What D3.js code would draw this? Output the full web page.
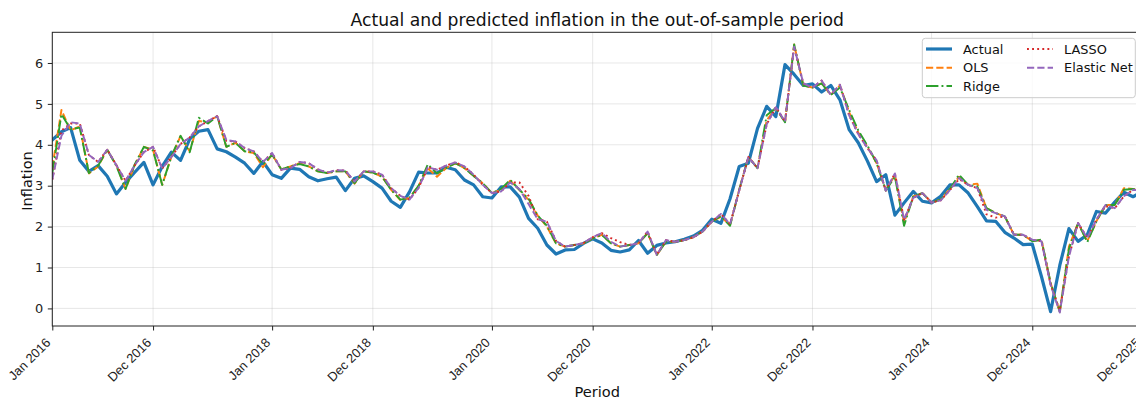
<!DOCTYPE html>
<html>
<head>
<meta charset="utf-8">
<script src="https://cdn.jsdelivr.net/npm/d3@7"></script>
<style>
  html, body { margin: 0; padding: 0; background: #fff; }
  svg { display: block; font-family: "DejaVu Sans", sans-serif; }
</style>
</head>
<body>
<svg id="chart" width="1136" height="399"></svg>
<script>
// Monthly out-of-sample period, Jan 2016 .. Dec 2025
const periods = d3.utcMonth.range(new Date(Date.UTC(2016, 0, 1)), new Date(Date.UTC(2026, 0, 1)))
  .map(d => d3.utcFormat("%b %Y")(d));

const actual = [
  4.12, 4.32, 4.42, 3.62, 3.35, 3.49, 3.23, 2.80, 3.08, 3.33,
  3.57, 3.02, 3.47, 3.82, 3.62, 4.14, 4.33, 4.37, 3.90, 3.83,
  3.70, 3.55, 3.30, 3.59, 3.27, 3.18, 3.43, 3.40, 3.22, 3.12,
  3.17, 3.21, 2.88, 3.18, 3.24, 3.10, 2.94, 2.62, 2.47, 2.85,
  3.33, 3.31, 3.31, 3.45, 3.39, 3.14, 3.02, 2.73, 2.70, 2.97,
  2.97, 2.72, 2.20, 1.96, 1.55, 1.33, 1.43, 1.44, 1.59, 1.70,
  1.60, 1.42, 1.38, 1.43, 1.66, 1.35, 1.54, 1.60, 1.63, 1.69,
  1.77, 1.91, 2.18, 2.08, 2.68, 3.47, 3.55, 4.40, 4.94, 4.69,
  5.96, 5.72, 5.45, 5.49, 5.29, 5.45, 5.10, 4.37, 4.05, 3.60,
  3.10, 3.27, 2.28, 2.58, 2.86, 2.62, 2.58, 2.74, 3.02, 3.02,
  2.82, 2.49, 2.14, 2.13, 1.86, 1.72, 1.56, 1.57, 0.78, -0.08,
  1.05, 1.95, 1.64, 1.80, 2.37, 2.33, 2.60, 2.84, 2.73, 2.85
];

const ols = [
  3.45, 4.85, 4.35, 4.45, 3.30, 3.47, 3.88, 3.50, 2.92, 3.50,
  3.95, 3.88, 3.02, 3.70, 4.21, 3.84, 4.58, 4.55, 4.70, 3.95,
  4.05, 3.84, 3.80, 3.45, 3.76, 3.40, 3.47, 3.55, 3.47, 3.35,
  3.31, 3.35, 3.35, 3.05, 3.35, 3.32, 3.22, 2.90, 2.65, 2.70,
  3.00, 3.42, 3.22, 3.43, 3.55, 3.43, 3.24, 3.06, 2.82, 2.90,
  3.12, 2.90, 2.65, 2.27, 2.00, 1.59, 1.51, 1.55, 1.59, 1.71,
  1.80, 1.59, 1.51, 1.55, 1.59, 1.84, 1.31, 1.63, 1.63, 1.67,
  1.74, 1.88, 2.12, 2.24, 2.04, 2.90, 3.70, 3.43, 4.60, 4.90,
  4.55, 6.45, 5.45, 5.40, 5.50, 5.22, 5.45, 4.80, 4.30, 3.95,
  3.55, 2.90, 3.25, 2.10, 2.74, 2.82, 2.59, 2.66, 2.92, 3.22,
  3.02, 3.05, 2.45, 2.33, 2.25, 1.80, 1.80, 1.64, 1.68, 0.62,
  -0.08, 1.51, 2.09, 1.64, 2.13, 2.53, 2.53, 2.94, 2.92, 2.88
];

const ridge = [
  3.30, 4.75, 4.38, 4.42, 3.31, 3.49, 3.88, 3.48, 2.92, 3.52,
  3.95, 3.86, 3.02, 3.72, 4.22, 3.82, 4.66, 4.52, 4.70, 3.95,
  4.05, 3.84, 3.82, 3.52, 3.76, 3.40, 3.47, 3.53, 3.47, 3.35,
  3.31, 3.35, 3.35, 3.06, 3.35, 3.32, 3.22, 2.90, 2.66, 2.70,
  3.00, 3.52, 3.30, 3.43, 3.55, 3.43, 3.24, 3.06, 2.82, 2.92,
  3.14, 2.90, 2.68, 2.27, 2.02, 1.59, 1.51, 1.55, 1.59, 1.71,
  1.80, 1.59, 1.51, 1.55, 1.59, 1.84, 1.31, 1.63, 1.63, 1.67,
  1.74, 1.88, 2.12, 2.26, 2.02, 2.90, 3.70, 3.43, 4.72, 4.90,
  4.55, 6.45, 5.45, 5.40, 5.50, 5.22, 5.40, 4.85, 4.35, 3.98,
  3.55, 2.88, 3.22, 2.02, 2.74, 2.82, 2.59, 2.66, 2.92, 3.27,
  3.02, 2.98, 2.45, 2.33, 2.25, 1.80, 1.80, 1.64, 1.68, 0.62,
  -0.08, 1.45, 2.09, 1.62, 2.13, 2.53, 2.53, 2.90, 2.92, 2.88
];

const lasso = [
  3.15, 4.35, 4.52, 4.52, 3.75, 3.58, 3.88, 3.50, 3.12, 3.50,
  3.82, 3.95, 3.42, 3.70, 4.02, 4.18, 4.45, 4.58, 4.70, 4.10,
  4.08, 3.92, 3.84, 3.58, 3.80, 3.39, 3.43, 3.58, 3.55, 3.40,
  3.32, 3.38, 3.37, 3.10, 3.35, 3.35, 3.27, 2.94, 2.75, 2.66,
  2.95, 3.45, 3.39, 3.49, 3.57, 3.47, 3.27, 3.02, 2.82, 2.86,
  3.08, 3.08, 2.75, 2.18, 2.12, 1.65, 1.51, 1.55, 1.60, 1.74,
  1.84, 1.72, 1.62, 1.55, 1.59, 1.88, 1.31, 1.67, 1.63, 1.67,
  1.74, 1.88, 2.12, 2.31, 2.06, 2.88, 3.70, 3.43, 4.50, 4.92,
  4.57, 6.40, 5.50, 5.40, 5.57, 5.22, 5.47, 4.72, 4.26, 3.92,
  3.62, 2.88, 3.30, 2.17, 2.70, 2.82, 2.59, 2.64, 2.89, 3.16,
  3.02, 2.94, 2.30, 2.22, 2.25, 1.80, 1.80, 1.68, 1.64, 0.58,
  -0.05, 1.27, 2.09, 1.72, 2.17, 2.50, 2.45, 2.74, 2.90, 2.88
];

const elasticNet = [
  3.15, 4.22, 4.55, 4.52, 3.75, 3.58, 3.88, 3.50, 3.12, 3.50,
  3.82, 3.95, 3.42, 3.70, 4.02, 4.18, 4.45, 4.58, 4.70, 4.12,
  4.08, 3.92, 3.84, 3.58, 3.80, 3.39, 3.43, 3.58, 3.55, 3.40,
  3.32, 3.38, 3.37, 3.10, 3.35, 3.35, 3.27, 2.94, 2.75, 2.66,
  2.95, 3.45, 3.39, 3.49, 3.57, 3.47, 3.27, 3.02, 2.82, 2.86,
  3.08, 2.92, 2.55, 2.18, 2.12, 1.65, 1.51, 1.55, 1.60, 1.74,
  1.84, 1.63, 1.51, 1.55, 1.59, 1.88, 1.31, 1.67, 1.63, 1.67,
  1.74, 1.88, 2.12, 2.31, 2.06, 2.88, 3.70, 3.43, 4.50, 4.92,
  4.57, 6.40, 5.50, 5.40, 5.57, 5.22, 5.47, 4.72, 4.26, 3.92,
  3.62, 2.88, 3.30, 2.17, 2.70, 2.82, 2.59, 2.64, 2.89, 3.19,
  3.02, 2.94, 2.41, 2.33, 2.25, 1.80, 1.80, 1.68, 1.64, 0.58,
  -0.10, 1.27, 2.09, 1.72, 2.17, 2.53, 2.45, 2.74, 2.90, 2.88
];

const xTickLabels = ["Jan 2016", "Dec 2016", "Jan 2018", "Dec 2018", "Jan 2020",
  "Dec 2020", "Jan 2022", "Dec 2022", "Jan 2024", "Dec 2024", "Dec 2025"];
const yTicks = [0, 1, 2, 3, 4, 5, 6];

const series = [
  { name: "Actual", values: actual, color: "#1f77b4", width: 3.2, dash: null },
  { name: "OLS", values: ols, color: "#ff7f0e", width: 1.95, dash: "7.2,3.1" },
  { name: "Ridge", values: ridge, color: "#2ca02c", width: 1.95, dash: "12.4,3.1,1.9,3.1" },
  { name: "LASSO", values: lasso, color: "#d62728", width: 1.95, dash: "1.9,3.2" },
  { name: "Elastic Net", values: elasticNet, color: "#9467bd", width: 1.95, dash: "7.2,3.1" }
];

const margin = { left: 52.3, top: 32.3, right: 1142.2, bottom: 326 };
const svg = d3.select("#chart");

const x = d3.scaleLinear().domain([0, periods.length - 1]).range([margin.left, margin.right]);
const y = d3.scaleLinear().domain([-0.43, 6.75]).range([margin.bottom, margin.top]);

// Clip the plotting area
svg.append("defs").append("clipPath").attr("id", "plot-clip")
  .append("rect")
  .attr("x", margin.left).attr("y", margin.top)
  .attr("width", margin.right - margin.left).attr("height", margin.bottom - margin.top);

const xTickIdx = xTickLabels.map(l => periods.indexOf(l));

// Grid
const grid = svg.append("g").attr("stroke", "#b0b0b0").attr("stroke-opacity", 0.3).attr("stroke-width", 1);
grid.selectAll(".gy").data(yTicks).join("line")
  .attr("x1", margin.left).attr("x2", margin.right)
  .attr("y1", d => y(d)).attr("y2", d => y(d));
grid.selectAll(".gx").data(xTickIdx).join("line")
  .attr("x1", d => x(d)).attr("x2", d => x(d))
  .attr("y1", margin.top).attr("y2", margin.bottom);

// Lines
const line = d3.line().x((d, i) => x(i)).y(d => y(d));
const plot = svg.append("g").attr("clip-path", "url(#plot-clip)");
series.forEach(s => {
  plot.append("path")
    .datum(s.values)
    .attr("fill", "none")
    .attr("stroke", s.color)
    .attr("stroke-width", s.width)
    .attr("stroke-dasharray", s.dash)
    .attr("stroke-linejoin", "round")
    .attr("stroke-linecap", s.dash ? "butt" : "square")
    .attr("d", line);
});

// Axes
const tickFont = 12.9;
const xAxis = d3.axisBottom(x).tickValues(xTickIdx).tickSize(4.5).tickPadding(4.5).tickFormat(() => "");
const gx = svg.append("g").attr("transform", `translate(0,${margin.bottom})`).call(xAxis);
gx.select(".domain").remove();
gx.selectAll(".tick line").attr("stroke", "#222").attr("stroke-width", 1);
gx.selectAll(".tick").append("text")
  .attr("fill", "#222")
  .attr("font-size", tickFont)
  .attr("text-anchor", "end")
  .attr("transform", "translate(-1.5,17.5) rotate(-45)")
  .text((d, i) => xTickLabels[i]);

const yAxis = d3.axisLeft(y).tickValues(yTicks).tickSize(4.5).tickPadding(4.5).tickFormat(d3.format("d"));
const gy = svg.append("g").attr("transform", `translate(${margin.left},0)`).call(yAxis);
gy.select(".domain").remove();
gy.selectAll(".tick line").attr("stroke", "#222").attr("stroke-width", 1);
gy.selectAll(".tick text").attr("fill", "#222").attr("font-size", tickFont)
  .attr("font-family", "DejaVu Sans");

// Frame
svg.append("rect")
  .attr("x", margin.left).attr("y", margin.top)
  .attr("width", margin.right - margin.left).attr("height", margin.bottom - margin.top)
  .attr("fill", "none").attr("stroke", "#222").attr("stroke-width", 1);

// Titles
svg.append("text").attr("x", (margin.left + margin.right) / 2).attr("y", 26)
  .attr("text-anchor", "middle").attr("font-size", 17.2).attr("fill", "#111")
  .text("Actual and predicted inflation in the out-of-sample period");
svg.append("text").attr("x", (margin.left + margin.right) / 2).attr("y", 396.5)
  .attr("text-anchor", "middle").attr("font-size", 14.6).attr("fill", "#111")
  .text("Period");
svg.append("text")
  .attr("transform", `translate(31.5,181) rotate(-90)`)
  .attr("text-anchor", "middle").attr("font-size", 14.6).attr("fill", "#111")
  .text("Inflation");

// Legend (two columns)
const lg = svg.append("g");
lg.append("rect")
  .attr("x", 922.3).attr("y", 38.3).attr("width", 213).attr("height", 59.4)
  .attr("rx", 3).attr("fill", "#fff").attr("fill-opacity", 0.8)
  .attr("stroke", "#cccccc").attr("stroke-width", 1);
const cols = [[0, 1, 2], [3, 4]];
const colX = [926, 1027];
const rowY = [49, 67.7, 86];
cols.forEach((col, ci) => {
  col.forEach((si, ri) => {
    const s = series[si];
    const g = lg.append("g").attr("transform", `translate(${colX[ci]},${rowY[ri]})`);
    g.append("line").attr("x1", 0).attr("x2", 26).attr("y1", 0).attr("y2", 0)
      .attr("stroke", s.color).attr("stroke-width", s.width)
      .attr("stroke-dasharray", s.dash).attr("stroke-linecap", "butt");
    g.append("text").attr("x", 37).attr("y", 4.6).attr("font-size", tickFont).attr("fill", "#111")
      .text(s.name);
  });
});
</script>
</body>
</html>
